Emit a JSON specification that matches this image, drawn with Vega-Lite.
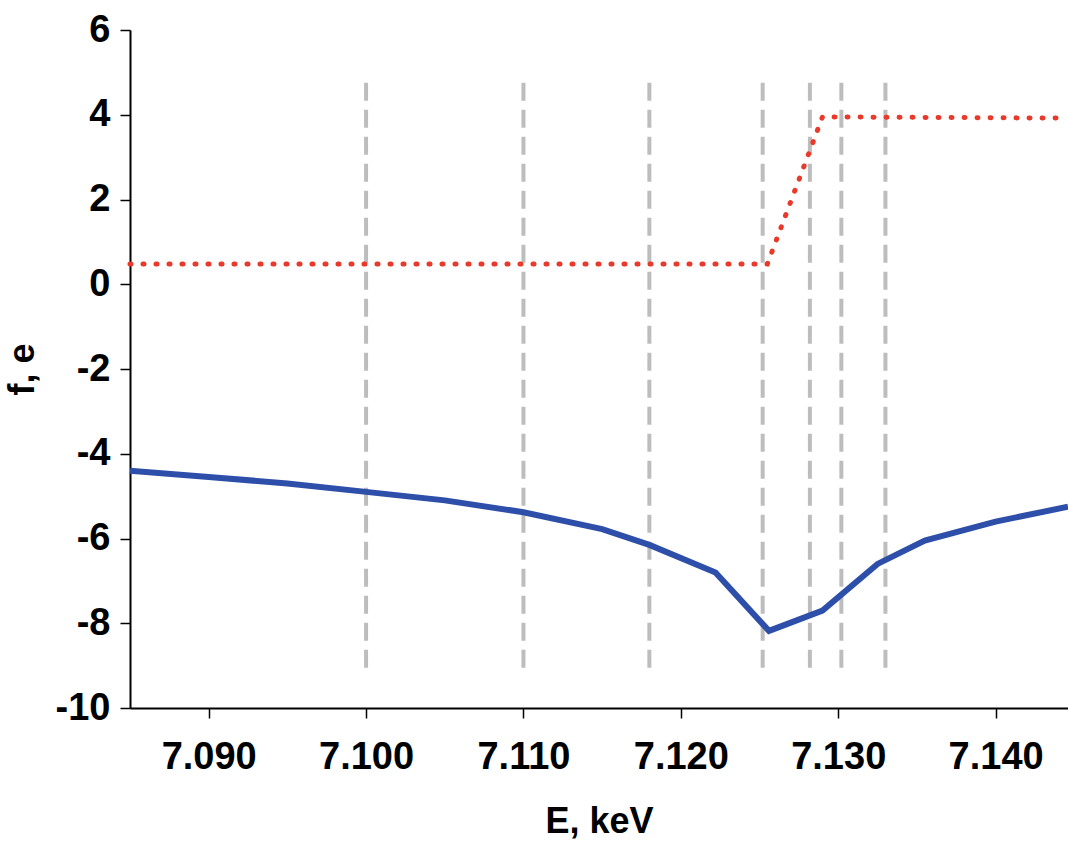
{
  "$schema": "https://vega.github.io/schema/vega-lite/v6.json",
  "width": 938,
  "height": 678,
  "autosize": "none",
  "padding": {"left": 130, "top": 30, "right": 0, "bottom": 134},
  "config": {
    "view": {"stroke": null},
    "font": "Liberation Sans",
    "axis": {
      "grid": false, "domainColor": "black", "tickColor": "black", "domainWidth": 2, "tickWidth": 1.5,
      "labelFont": "Liberation Sans", "labelFontWeight": "bold", "labelFontSize": 38, "labelColor": "black",
      "titleFont": "Liberation Sans", "titleFontWeight": "bold", "titleFontSize": 36, "titleColor": "black"
    }
  },
  "datasets": {
    "real": [
      {"E": 7.085, "f": -4.4}, {"E": 7.090, "f": -4.55}, {"E": 7.095, "f": -4.7}, {"E": 7.100, "f": -4.9},
      {"E": 7.105, "f": -5.1}, {"E": 7.110, "f": -5.38}, {"E": 7.115, "f": -5.78}, {"E": 7.118, "f": -6.15},
      {"E": 7.1222, "f": -6.8}, {"E": 7.1256, "f": -8.18}, {"E": 7.129, "f": -7.7}, {"E": 7.1325, "f": -6.6},
      {"E": 7.1355, "f": -6.05}, {"E": 7.140, "f": -5.6}, {"E": 7.1446, "f": -5.25}
    ],
    "imag": [
      {"E": 7.085, "f": 0.48}, {"E": 7.1255, "f": 0.48}, {"E": 7.129, "f": 3.95}, {"E": 7.1446, "f": 3.92}
    ],
    "marks": [
      {"E": 7.100}, {"E": 7.110}, {"E": 7.118}, {"E": 7.1252}, {"E": 7.1282}, {"E": 7.1302}, {"E": 7.133}
    ]
  },
  "layer": [
    {
      "data": {"name": "marks"},
      "mark": {"type": "rule", "color": "#bdbdbd", "strokeWidth": 4, "strokeDash": [18, 9]},
      "encoding": {
        "x": {"field": "E", "type": "quantitative", "scale": {"domain": [7.085, 7.1446], "nice": false, "zero": false},
          "axis": {"values": [7.09, 7.1, 7.11, 7.12, 7.13, 7.14], "format": ".3f", "title": "E, keV", "tickSize": 10, "labelPadding": 20, "titlePadding": 28}},
        "y": {"datum": -9.05, "type": "quantitative"},
        "y2": {"datum": 4.85}
      }
    },
    {
      "data": {"name": "real"},
      "mark": {"type": "line", "color": "#2e4fa9", "strokeWidth": 6},
      "encoding": {
        "x": {"field": "E", "type": "quantitative"},
        "y": {"field": "f", "type": "quantitative", "scale": {"domain": [-10, 6], "nice": false},
          "axis": {"values": [-10, -8, -6, -4, -2, 0, 2, 4, 6], "labelExpr": "replace(datum.label, '−', '-')", "title": "f, e", "tickSize": 10, "labelPadding": 10, "titlePadding": 14}}
      }
    },
    {
      "data": {"name": "imag"},
      "mark": {"type": "line", "color": "#e8392a", "strokeWidth": 5, "strokeDash": [1, 12], "strokeCap": "round"},
      "encoding": {
        "x": {"field": "E", "type": "quantitative"},
        "y": {"field": "f", "type": "quantitative"}
      }
    }
  ]
}
